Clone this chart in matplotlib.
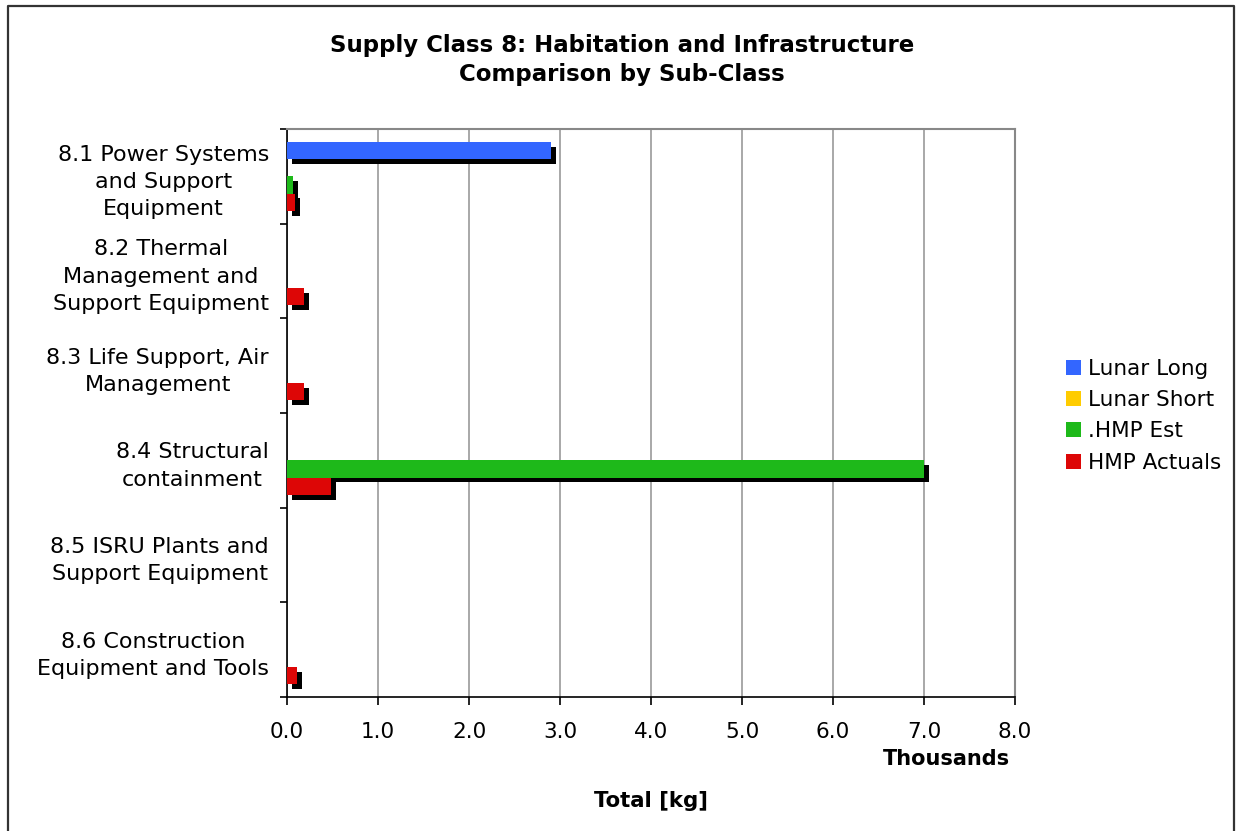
import numpy as np
import matplotlib.pyplot as plt
import matplotlib.patheffects as pe
from matplotlib.ticker import FuncFormatter, MultipleLocator
from matplotlib.lines import Line2D
from matplotlib.patches import Patch

categories = ['8.1 Power Systems\nand Support\nEquipment',
              '8.2 Thermal\nManagement and\nSupport Equipment',
              '8.3 Life Support, Air\nManagement',
              '8.4 Structural\ncontainment',
              '8.5 ISRU Plants and\nSupport Equipment',
              '8.6 Construction\nEquipment and Tools']

series = ['Lunar Long', 'Lunar Short', '.HMP Est', 'HMP Actuals']
colors = ['#3366ff', '#ffcc00', '#1eb91a', '#dd0606']

# kg
lunar_long = [2900, 0, 0, 0, 0, 0]
lunar_short = [0, 0, 0, 0, 0, 0]
hmp_est = [65, 0, 0, 7000, 0, 0]
hmp_actuals = [90, 185, 185, 480, 0, 110]

values = [lunar_long, lunar_short, hmp_est, hmp_actuals]

fig = plt.figure(figsize=(12.36, 8.31), dpi=100)
ax = fig.add_axes([287/1236, 1 - 697/831, (1015 - 287)/1236, (697 - 129)/831])

y = np.arange(len(categories))
h = 1 / 5.5
shadow = [pe.SimplePatchShadow(offset=(3.5, -3.5), shadow_rgbFace='black', alpha=1.0), pe.Normal()]
for j, (vals, c) in enumerate(zip(values, colors)):
    v = np.array(vals, dtype=float)
    bars = ax.barh(y + (j - 1.5) * h, v, height=h, color=c, linewidth=0, zorder=3)
    for b, val in zip(bars, v):
        if val > 0:
            b.set_path_effects(shadow)

ax.set_xlim(0, 8000)
ax.set_ylim(5.5, -0.5)
ax.xaxis.set_major_locator(MultipleLocator(1000))
ax.xaxis.set_major_formatter(FuncFormatter(lambda v, p: f'{v/1000:.1f}'))
ax.grid(axis='x', color='#999999', linewidth=1.2, zorder=0)

ax.set_yticks(np.arange(-0.5, 6, 1))
ax.set_yticklabels([])
ax.set_yticks(y, minor=True)
ax.set_yticklabels(categories, minor=True, multialignment='center', fontsize=16,
                   linespacing=1.45)
ax.tick_params(axis='y', which='minor', length=0, pad=13)
ax.tick_params(axis='y', which='major', direction='out', length=5, width=1.2)
ax.tick_params(axis='x', direction='out', length=6, width=1.2, labelsize=15.5, pad=12)

for s in ['top', 'right']:
    ax.spines[s].set_color('#888888')
    ax.spines[s].set_linewidth(1.5)
for s in ['left', 'bottom']:
    ax.spines[s].set_color('black')
    ax.spines[s].set_linewidth(1.2)

fig.text(622/1236, 1 - 60/831,
         'Supply Class 8: Habitation and Infrastructure\nComparison by Sub-Class',
         ha='center', va='center', fontsize=16.5, fontweight='bold', linespacing=1.35)
fig.text(1010/1236, 1 - 759/831, 'Thousands', ha='right', va='center',
         fontsize=15, fontweight='bold')
fig.text(651/1236, 1 - 801/831, 'Total [kg]', ha='center', va='center',
         fontsize=15.3, fontweight='bold')

handles = [Patch(facecolor=c, edgecolor='none') for c in colors]
fig.legend(handles, series, loc='upper left', bbox_to_anchor=(1066/1236, 1 - 359/831),
           frameon=False, fontsize=15.5, handlelength=0.7, handleheight=0.7,
           handletextpad=0.33, labelspacing=0.52, borderaxespad=0, borderpad=0)

fig.add_artist(Line2D([8/1236, 8/1236, 1234/1236, 1234/1236],
                      [0, 1 - 6/831, 1 - 6/831, 0],
                      color='#333333', linewidth=1.6, transform=fig.transFigure))

fig.savefig('out.png', dpi=100)
